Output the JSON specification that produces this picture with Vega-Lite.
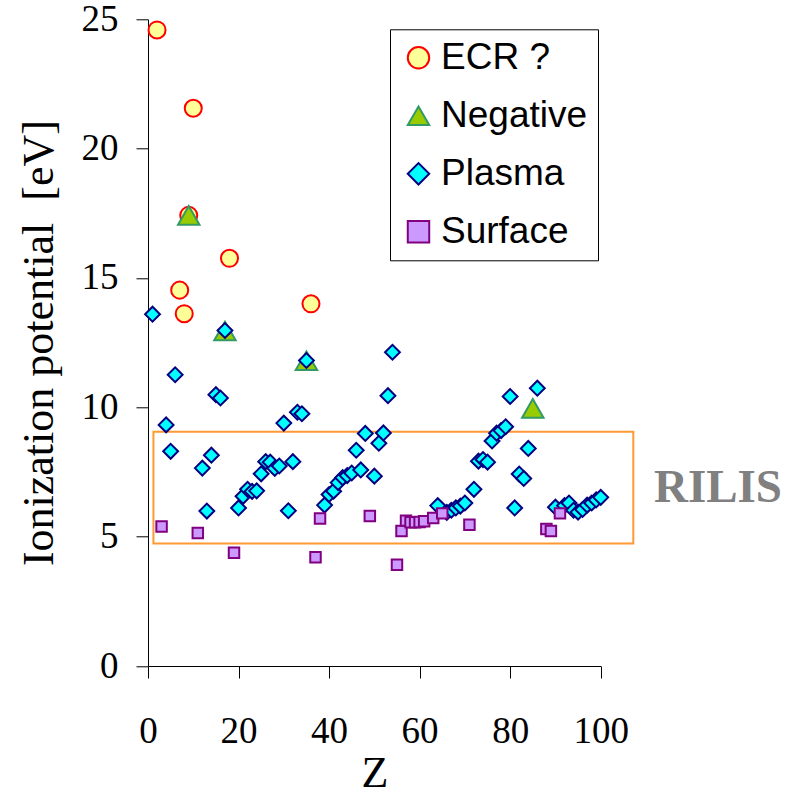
{
  "$schema": "https://vega.github.io/schema/vega-lite/v6.json",
  "width": 452.7,
  "height": 646.7,
  "autosize": {"type": "none"},
  "padding": {"left": 148, "top": 19.3, "right": 199.3, "bottom": 130},
  "background": "white",
  "config": {
    "view": {"stroke": null},
    "legend": {
      "orient": "none",
      "legendX": 242,
      "legendY": 10,
      "strokeColor": "black",
      "strokeWidth": 1,
      "fillColor": "white",
      "padding": 10,
      "rowPadding": 20,
      "labelFont": "Liberation Sans",
      "labelFontSize": 37,
      "labelColor": "black",
      "labelOffset": 4,
      "symbolStrokeWidth": 2,
      "symbolOpacity": 1,
      "symbolSize": 460,
      "labelLimit": 400
    }
  },
  "datasets": {
    "pts": [
      {"Z": 2, "IP": 24.59, "type": "ECR ?"},
      {"Z": 7, "IP": 14.53, "type": "ECR ?"},
      {"Z": 8, "IP": 13.62, "type": "ECR ?"},
      {"Z": 9, "IP": 17.42, "type": "ECR ?"},
      {"Z": 10, "IP": 21.56, "type": "ECR ?"},
      {"Z": 18, "IP": 15.76, "type": "ECR ?"},
      {"Z": 36, "IP": 14.0, "type": "ECR ?"},
      {"Z": 9, "IP": 17.42, "type": "Negative"},
      {"Z": 17, "IP": 12.95, "type": "Negative"},
      {"Z": 35, "IP": 11.8, "type": "Negative"},
      {"Z": 85, "IP": 9.96, "type": "Negative"},
      {"Z": 1, "IP": 13.6, "type": "Plasma"},
      {"Z": 4, "IP": 9.32, "type": "Plasma"},
      {"Z": 5, "IP": 8.3, "type": "Plasma"},
      {"Z": 6, "IP": 11.26, "type": "Plasma"},
      {"Z": 12, "IP": 7.65, "type": "Plasma"},
      {"Z": 13, "IP": 5.99, "type": "Plasma"},
      {"Z": 14, "IP": 8.15, "type": "Plasma"},
      {"Z": 15, "IP": 10.49, "type": "Plasma"},
      {"Z": 16, "IP": 10.36, "type": "Plasma"},
      {"Z": 17, "IP": 12.97, "type": "Plasma"},
      {"Z": 20, "IP": 6.11, "type": "Plasma"},
      {"Z": 21, "IP": 6.56, "type": "Plasma"},
      {"Z": 22, "IP": 6.83, "type": "Plasma"},
      {"Z": 23, "IP": 6.75, "type": "Plasma"},
      {"Z": 24, "IP": 6.77, "type": "Plasma"},
      {"Z": 25, "IP": 7.43, "type": "Plasma"},
      {"Z": 26, "IP": 7.9, "type": "Plasma"},
      {"Z": 27, "IP": 7.88, "type": "Plasma"},
      {"Z": 28, "IP": 7.64, "type": "Plasma"},
      {"Z": 29, "IP": 7.73, "type": "Plasma"},
      {"Z": 30, "IP": 9.39, "type": "Plasma"},
      {"Z": 31, "IP": 6.0, "type": "Plasma"},
      {"Z": 32, "IP": 7.9, "type": "Plasma"},
      {"Z": 33, "IP": 9.81, "type": "Plasma"},
      {"Z": 34, "IP": 9.75, "type": "Plasma"},
      {"Z": 35, "IP": 11.81, "type": "Plasma"},
      {"Z": 39, "IP": 6.22, "type": "Plasma"},
      {"Z": 40, "IP": 6.63, "type": "Plasma"},
      {"Z": 41, "IP": 6.76, "type": "Plasma"},
      {"Z": 42, "IP": 7.09, "type": "Plasma"},
      {"Z": 43, "IP": 7.28, "type": "Plasma"},
      {"Z": 44, "IP": 7.36, "type": "Plasma"},
      {"Z": 45, "IP": 7.46, "type": "Plasma"},
      {"Z": 46, "IP": 8.34, "type": "Plasma"},
      {"Z": 47, "IP": 7.58, "type": "Plasma"},
      {"Z": 48, "IP": 8.99, "type": "Plasma"},
      {"Z": 50, "IP": 7.34, "type": "Plasma"},
      {"Z": 51, "IP": 8.61, "type": "Plasma"},
      {"Z": 52, "IP": 9.01, "type": "Plasma"},
      {"Z": 53, "IP": 10.45, "type": "Plasma"},
      {"Z": 54, "IP": 12.13, "type": "Plasma"},
      {"Z": 64, "IP": 6.2, "type": "Plasma"},
      {"Z": 66, "IP": 5.94, "type": "Plasma"},
      {"Z": 67, "IP": 6.02, "type": "Plasma"},
      {"Z": 68, "IP": 6.11, "type": "Plasma"},
      {"Z": 69, "IP": 6.18, "type": "Plasma"},
      {"Z": 70, "IP": 6.3, "type": "Plasma"},
      {"Z": 72, "IP": 6.83, "type": "Plasma"},
      {"Z": 73, "IP": 7.92, "type": "Plasma"},
      {"Z": 74, "IP": 7.98, "type": "Plasma"},
      {"Z": 75, "IP": 7.88, "type": "Plasma"},
      {"Z": 76, "IP": 8.7, "type": "Plasma"},
      {"Z": 77, "IP": 9.0, "type": "Plasma"},
      {"Z": 78, "IP": 9.1, "type": "Plasma"},
      {"Z": 79, "IP": 9.25, "type": "Plasma"},
      {"Z": 80, "IP": 10.42, "type": "Plasma"},
      {"Z": 81, "IP": 6.11, "type": "Plasma"},
      {"Z": 82, "IP": 7.42, "type": "Plasma"},
      {"Z": 83, "IP": 7.25, "type": "Plasma"},
      {"Z": 84, "IP": 8.41, "type": "Plasma"},
      {"Z": 86, "IP": 10.74, "type": "Plasma"},
      {"Z": 90, "IP": 6.14, "type": "Plasma"},
      {"Z": 92, "IP": 6.2, "type": "Plasma"},
      {"Z": 93, "IP": 6.3, "type": "Plasma"},
      {"Z": 94, "IP": 6.02, "type": "Plasma"},
      {"Z": 95, "IP": 5.95, "type": "Plasma"},
      {"Z": 96, "IP": 6.05, "type": "Plasma"},
      {"Z": 97, "IP": 6.22, "type": "Plasma"},
      {"Z": 98, "IP": 6.3, "type": "Plasma"},
      {"Z": 99, "IP": 6.42, "type": "Plasma"},
      {"Z": 100, "IP": 6.52, "type": "Plasma"},
      {"Z": 3, "IP": 5.39, "type": "Surface"},
      {"Z": 11, "IP": 5.14, "type": "Surface"},
      {"Z": 19, "IP": 4.38, "type": "Surface"},
      {"Z": 37, "IP": 4.2, "type": "Surface"},
      {"Z": 38, "IP": 5.7, "type": "Surface"},
      {"Z": 49, "IP": 5.8, "type": "Surface"},
      {"Z": 55, "IP": 3.91, "type": "Surface"},
      {"Z": 56, "IP": 5.22, "type": "Surface"},
      {"Z": 57, "IP": 5.62, "type": "Surface"},
      {"Z": 58, "IP": 5.56, "type": "Surface"},
      {"Z": 59, "IP": 5.56, "type": "Surface"},
      {"Z": 60, "IP": 5.57, "type": "Surface"},
      {"Z": 61, "IP": 5.6, "type": "Surface"},
      {"Z": 63, "IP": 5.72, "type": "Surface"},
      {"Z": 65, "IP": 5.9, "type": "Surface"},
      {"Z": 71, "IP": 5.46, "type": "Surface"},
      {"Z": 88, "IP": 5.3, "type": "Surface"},
      {"Z": 89, "IP": 5.22, "type": "Surface"},
      {"Z": 91, "IP": 5.9, "type": "Surface"}
    ]
  },
  "layer": [
    {
      "data": {"values": [{"Z": 1.2, "Z2": 107.2, "IP": 4.74, "IP2": 9.06}]},
      "mark": {"type": "rect", "fill": null, "stroke": "#FF9933", "strokeWidth": 2},
      "encoding": {
        "x": {"field": "Z", "type": "quantitative"},
        "x2": {"field": "Z2"},
        "y": {"field": "IP", "type": "quantitative"},
        "y2": {"field": "IP2"}
      }
    },
    {
      "data": {"name": "pts"},
      "mark": {"type": "point", "filled": true, "strokeWidth": 2, "opacity": 1},
      "encoding": {
        "x": {
          "field": "Z", "type": "quantitative",
          "scale": {"domain": [0, 100], "nice": false, "zero": false},
          "axis": {
            "values": [0, 20, 40, 60, 80, 100],
            "title": "Z",
            "grid": false,
            "tickSize": 12,
            "tickColor": "black",
            "domainColor": "black",
            "labelFont": "Liberation Serif",
            "labelFontSize": 37,
            "labelColor": "black",
            "labelPadding": 35,
            "labelFlush": false,
            "labelOverlap": false,
            "labelBound": false,
            "titleFont": "Liberation Serif",
            "titleFontSize": 44,
            "titleFontWeight": "normal",
            "titleColor": "black",
            "titlePadding": 2
          }
        },
        "y": {
          "field": "IP", "type": "quantitative",
          "scale": {"domain": [0, 25], "nice": false},
          "axis": {
            "values": [0, 5, 10, 15, 20, 25],
            "title": "Ionization potential\u00a0 [eV]",
            "grid": false,
            "tickSize": 12,
            "tickColor": "black",
            "domainColor": "black",
            "labelFont": "Liberation Serif",
            "labelFontSize": 37,
            "labelColor": "black",
            "labelPadding": 18,
            "labelFlush": false,
            "labelOverlap": false,
            "labelBound": false,
            "titleFont": "Liberation Serif",
            "titleFontSize": 44,
            "titleFontWeight": "normal",
            "titleColor": "black",
            "titlePadding": 20
          }
        },
        "shape": {
          "field": "type", "type": "nominal",
          "scale": {"domain": ["ECR ?", "Negative", "Plasma", "Surface"], "range": ["circle", "triangle-up", "diamond", "square"]},
          "legend": {
            "title": null,
            "encode": {
              "symbols": {
                "update": {
                  "size": {"signal": "datum.value === 'Surface' ? 110 : datum.value === 'Plasma' ? 220 : datum.value === 'Negative' ? 460 : 290"}
                }
              }
            }
          }
        },
        "fill": {
          "field": "type", "type": "nominal",
          "scale": {"domain": ["ECR ?", "Negative", "Plasma", "Surface"], "range": ["#FFFF99", "#99CC00", "#00FFFF", "#CC99FF"]},
          "legend": {"title": null}
        },
        "stroke": {
          "field": "type", "type": "nominal",
          "scale": {"domain": ["ECR ?", "Negative", "Plasma", "Surface"], "range": ["#FF0000", "#339966", "#000080", "#800080"]},
          "legend": {"title": null}
        },
        "size": {
          "condition": [
            {"test": "datum.type === 'Surface'", "value": 110},
            {"test": "datum.type === 'Plasma'", "value": 220},
            {"test": "datum.type === 'Negative'", "value": 460}
          ],
          "value": 290
        }
      }
    },
    {
      "data": {"values": [{"Z": 125.9, "IP": 6.9, "label": "RILIS"}]},
      "mark": {"type": "text", "font": "Liberation Serif", "fontSize": 47, "fontWeight": "bold", "fill": "#808080", "align": "center", "baseline": "middle"},
      "encoding": {
        "x": {"field": "Z", "type": "quantitative"},
        "y": {"field": "IP", "type": "quantitative"},
        "text": {"field": "label"}
      }
    }
  ]
}
